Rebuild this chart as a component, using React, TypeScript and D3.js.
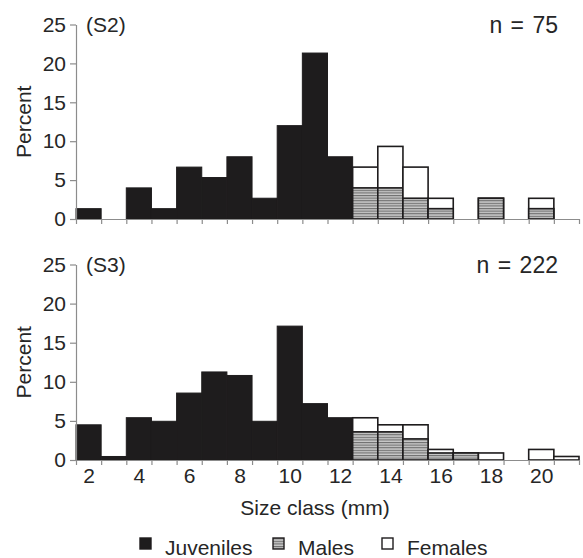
import {useEffect, useRef} from 'react';
import * as d3 from 'd3';

// size classes (mm), one bin per mm
const SIZE_CLASSES = [2, 3, 4, 5, 6, 7, 8, 9, 10, 11, 12, 13, 14, 15, 16, 17, 18, 19, 20, 21];
const X_LABELS = [2, 4, 6, 8, 10, 12, 14, 16, 18, 20];
const Y_TICKS = [0, 5, 10, 15, 20, 25];

// S2 (n = 75), percent
const S2_JUVENILES = [1.33, 0, 4, 1.33, 6.67, 5.33, 8, 2.67, 12, 21.33, 8, 0, 0, 0, 0, 0, 0, 0, 0, 0];
const S2_MALES = [0, 0, 0, 0, 0, 0, 0, 0, 0, 0, 0, 4, 4, 2.67, 1.33, 0, 2.67, 0, 1.33, 0];
const S2_FEMALES = [0, 0, 0, 0, 0, 0, 0, 0, 0, 0, 0, 2.67, 5.33, 4, 1.33, 0, 0, 0, 1.33, 0];

// S3 (n = 222), percent
const S3_JUVENILES = [4.5, 0.45, 5.41, 4.95, 8.56, 11.26, 10.81, 4.95, 17.12, 7.21, 5.41, 0, 0, 0, 0, 0, 0, 0, 0, 0];
const S3_MALES = [0, 0, 0, 0, 0, 0, 0, 0, 0, 0, 0, 3.6, 3.6, 2.7, 0.9, 0.9, 0, 0, 0, 0];
const S3_FEMALES = [0, 0, 0, 0, 0, 0, 0, 0, 0, 0, 0, 1.8, 0.9, 1.8, 0.45, 0, 0.9, 0, 1.35, 0.45];

const PANELS = [
    {tag: '(S2)', n: 'n = 75', juv: S2_JUVENILES, males: S2_MALES, females: S2_FEMALES, top: 24.5, bottom: 219, labels: false},
    {tag: '(S3)', n: 'n = 222', juv: S3_JUVENILES, males: S3_MALES, females: S3_FEMALES, top: 264.5, bottom: 460, labels: true}
];

const FONT = '"Liberation Sans", Arial, Helvetica, sans-serif';
const AXIS_COLOR = '#8c8c8c';
const TEXT_COLOR = '#262626';
const BAR_DARK = '#1e1c1d';

const LEFT = 76;
const RIGHT = 579;

const x = d3.scaleLinear().domain([1.5, 21.5]).range([LEFT, RIGHT]);
const edges = SIZE_CLASSES.map((d) => d - 0.5).concat([21.5]);

function Panel({panel}) {
    const yAxis = useRef(null);
    const xAxis = useRef(null);
    const xLabels = useRef(null);

    const y = d3.scaleLinear().domain([0, 25]).range([panel.bottom, panel.top]);

    useEffect(() => {
        const styleAxis = (sel) => {
            sel.selectAll('path.domain').attr('stroke', AXIS_COLOR).attr('stroke-width', 1.2);
            sel.selectAll('.tick line').attr('stroke', AXIS_COLOR).attr('stroke-width', 1.2);
            sel.selectAll('.tick text')
                .attr('fill', TEXT_COLOR)
                .style('font-family', FONT)
                .style('font-size', '21px');
        };

        d3.select(yAxis.current)
            .call(d3.axisLeft(y).tickValues(Y_TICKS).tickSize(6).tickSizeOuter(0).tickPadding(4))
            .call(styleAxis);

        d3.select(xAxis.current)
            .call(d3.axisBottom(x).tickValues(edges).tickSize(5).tickSizeOuter(0).tickFormat(() => ''))
            .call(styleAxis);

        if (panel.labels) {
            d3.select(xLabels.current)
                .call(d3.axisBottom(x).tickValues(X_LABELS).tickSize(0).tickPadding(8))
                .call(styleAxis)
                .call((g) => g.select('path.domain').remove());
        }
    }, []);

    const w = x(2.5) - x(1.5);

    return (
        <g>
            {/* juveniles */}
            {SIZE_CLASSES.map((c, i) => panel.juv[i] > 0 && (
                <rect key={'j' + c} x={x(c - 0.5)} width={w} y={y(panel.juv[i])}
                    height={y(0) - y(panel.juv[i])} fill={BAR_DARK} stroke={BAR_DARK} strokeWidth={1} />
            ))}
            {/* females stacked on males */}
            {SIZE_CLASSES.map((c, i) => {
                const total = panel.males[i] + panel.females[i];
                if (total <= 0) return null;
                return (
                    <g key={'mf' + c}>
                        <rect x={x(c - 0.5)} width={w} y={y(total)} height={y(0) - y(total)}
                            fill="#fff" stroke={BAR_DARK} strokeWidth={1.6} />
                        {panel.males[i] > 0 && (
                            <rect x={x(c - 0.5)} width={w} y={y(panel.males[i])}
                                height={y(0) - y(panel.males[i])} fill="url(#hatch)"
                                stroke={BAR_DARK} strokeWidth={1.6} />
                        )}
                    </g>
                );
            })}

            <g ref={xAxis} transform={`translate(0, ${panel.bottom})`} />
            <g ref={yAxis} transform={`translate(${LEFT}, 0)`} />
            {panel.labels && <g ref={xLabels} transform={`translate(0, ${panel.bottom})`} />}

            <text x={86} y={panel.top} dy="0.36em" fill={TEXT_COLOR}
                style={{fontFamily: FONT, fontSize: 21}}>{panel.tag}</text>
            <text x={558} y={panel.top} dy="0.36em" textAnchor="end" fill={TEXT_COLOR}
                style={{fontFamily: FONT, fontSize: 23, wordSpacing: 2}}>{panel.n}</text>
            <text transform={`translate(23, ${(panel.top + panel.bottom) / 2}) rotate(-90)`}
                textAnchor="middle" dy="0.36em" fill={TEXT_COLOR}
                style={{fontFamily: FONT, fontSize: 21}}>Percent</text>
        </g>
    );
}

const LEGEND = [
    {label: 'Juveniles', fill: BAR_DARK, x: 140},
    {label: 'Males', fill: 'url(#hatch)', x: 273},
    {label: 'Females', fill: '#fff', x: 382}
];

export default function App() {
    return (
        <svg width={583} height={558} style={{position: 'absolute', left: 0, top: 0, background: '#fff'}}>
            <defs>
                <pattern id="hatch" patternUnits="userSpaceOnUse" width={6} height={2.6}>
                    <rect width={6} height={2.6} fill="#c8c8c8" />
                    <rect width={6} height={1.1} fill="#6e6e6e" />
                </pattern>
            </defs>

            {PANELS.map((p) => <Panel key={p.tag} panel={p} />)}

            <text x={315} y={515} textAnchor="middle" fill={TEXT_COLOR}
                style={{fontFamily: FONT, fontSize: 21}}>Size class (mm)</text>

            {LEGEND.map((d) => (
                <g key={d.label}>
                    <rect x={d.x} y={538} width={11} height={11} fill={d.fill}
                        stroke={BAR_DARK} strokeWidth={1.4} />
                    <text x={d.x + 25} y={555} fill={TEXT_COLOR}
                        style={{fontFamily: FONT, fontSize: 21}}>{d.label}</text>
                </g>
            ))}
        </svg>
    );
}
